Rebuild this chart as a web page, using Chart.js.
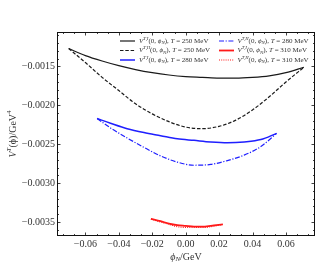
<!DOCTYPE html>
<html><head><meta charset="utf-8">
<script src="https://cdn.jsdelivr.net/npm/chart.js@4.4.1/dist/chart.umd.min.js"></script>
<style>html,body{margin:0;padding:0;background:#fff}#wrap{width:332px;height:266px}</style>
</head><body><div id="wrap"><canvas id="c" width="332" height="266"></canvas></div>
<script>
// ---- data ----
const phi250 = [-0.07,-0.06,-0.05,-0.04,-0.03,-0.02,-0.01,0.0,0.01,0.02,0.03,0.04,0.05,0.06,0.0708];
const vI250  = [-0.00127,-0.00136,-0.00143,-0.00149,-0.00154,-0.00158,-0.00161,-0.00163,-0.00164,-0.00165,-0.00165,-0.00164,-0.00162,-0.00158,-0.00151];
const vII250 = [-0.00127,-0.00145,-0.00164,-0.00181,-0.00198,-0.00211,-0.00221,-0.00228,-0.00230,-0.00227,-0.00219,-0.00206,-0.00189,-0.00170,-0.00151];
const phi280 = [-0.053,-0.045,-0.035,-0.025,-0.015,-0.005,0.005,0.015,0.025,0.035,0.045,0.0544];
const vI280  = [-0.00217,-0.00223,-0.00230,-0.00235,-0.00239,-0.00243,-0.00245,-0.00247,-0.00248,-0.00247,-0.00244,-0.00236];
const vII280 = [-0.00217,-0.00229,-0.00242,-0.00254,-0.00265,-0.00273,-0.00277,-0.00276,-0.00271,-0.00264,-0.00253,-0.00236];
const phi310 = [-0.0208,-0.015,-0.01,-0.005,0.0,0.005,0.01,0.015,0.0222];
const vI310  = [-0.00346,-0.00349,-0.00352,-0.00354,-0.00355,-0.00356,-0.00356,-0.00355,-0.00353];
const vII310 = [-0.00346,-0.00350,-0.00353,-0.00356,-0.00357,-0.00357,-0.00357,-0.00356,-0.00353];
const xTicks = [-0.06,-0.04,-0.02,0.0,0.02,0.04,0.06];
const yTicks = [-0.0035,-0.0030,-0.0025,-0.0020,-0.0015];
const legendTemps = ['250','250','280','280','310','310'];
const legendKinds = ['I','II','I','II','I','II'];

const pts = (xs, ys) => xs.map((x,i)=>({x, y: ys[i]}));
const SERIF = '"Liberation Serif","DejaVu Serif",serif';

function richWidth(ctx, parts, size){
  let w=0;
  for(const p of parts){
    const s = p[1] ? size*0.7 : size;
    ctx.font = (p[2]?'italic ':'') + s + 'px ' + SERIF;
    w += ctx.measureText(p[0]).width;
  }
  return w;
}
function drawRich(ctx, parts, x, y, size){
  let cx = x;
  for(const p of parts){
    const s = p[1] ? size*0.7 : size;
    ctx.font = (p[2]?'italic ':'') + s + 'px ' + SERIF;
    let dy = 0;
    if(p[1]==='sup') dy = -size*0.38;
    if(p[1]==='sub') dy = size*0.25;
    ctx.fillText(p[0], cx, y+dy);
    cx += ctx.measureText(p[0]).width;
  }
}

const ds = [
  {data: pts(phi250,vI250),  borderColor:'#1a1a1a', borderWidth:1.2, borderDash:[]},
  {data: pts(phi250,vII250), borderColor:'#1a1a1a', borderWidth:1.2, borderDash:[3.5,1.8]},
  {data: pts(phi280,vI280),  borderColor:'#1f1fff', borderWidth:1.5, borderDash:[]},
  {data: pts(phi280,vII280), borderColor:'#1f1fff', borderWidth:1.2, borderDash:[5,1.6,1.2,1.6]},
  {data: pts(phi310,vI310),  borderColor:'#ff1a1a', borderWidth:1.8, borderDash:[]},
  {data: pts(phi310,vII310), borderColor:'#ff1a1a', borderWidth:1.2, borderDash:[1,1.2]},
].map(d=>Object.assign(d,{pointRadius:0, fill:false, cubicInterpolationMode:'monotone'}));

const decor = {
  id:'decor',
  afterDraw(chart){
    const ctx = chart.ctx, a = chart.chartArea;
    const xs = chart.scales.x, ys = chart.scales.y;
    ctx.save();
    ctx.strokeStyle = '#111'; ctx.lineWidth = 1;
    ctx.strokeRect(a.left+0.5, a.top+0.5, a.right-a.left-1, a.bottom-a.top-1);
    ctx.lineWidth = 0.8;
    // x ticks (inward, top & bottom)
    for(let k=-24;k<=24;k++){
      const v = k*0.02/3;
      if(v < xs.min || v > xs.max) continue;
      const major = (k%3===0);
      const L = major?3.5:2;
      const px = Math.round(xs.getPixelForValue(v))+0.5;
      ctx.beginPath();
      ctx.moveTo(px,a.bottom); ctx.lineTo(px,a.bottom-L);
      ctx.moveTo(px,a.top); ctx.lineTo(px,a.top+L);
      ctx.stroke();
    }
    // y ticks
    for(let k=-40;k<=-8;k++){
      const v = k*0.0001;
      if(v < ys.min || v > ys.max) continue;
      const major = (k%5===0);
      const L = major?3.5:2;
      const py = Math.round(ys.getPixelForValue(v))+0.5;
      ctx.beginPath();
      ctx.moveTo(a.left,py); ctx.lineTo(a.left+L,py);
      ctx.moveTo(a.right,py); ctx.lineTo(a.right-L,py);
      ctx.stroke();
    }
    // axis titles
    ctx.fillStyle = '#333'; ctx.textBaseline = 'middle'; ctx.textAlign = 'left';
    const xt = [['ϕ','',true],['N','sub',true],['/GeV','',false]];
    const wx = richWidth(ctx, xt, 10);
    drawRich(ctx, xt, (a.left+a.right)/2 - wx/2, 257, 10);
    const yt = [['V','',true],['T','sup',true],['(ϕ)/GeV','',false],['4','sup',false]];
    const wy = richWidth(ctx, yt, 10);
    ctx.save();
    ctx.translate(13, (a.top+a.bottom)/2);
    ctx.rotate(-Math.PI/2);
    drawRich(ctx, yt, -wy/2, 0, 10);
    ctx.restore();
    // legend
    const rowY = [41, 50.5, 60];
    const cols = [{l0:120,l1:135,t:139},{l0:219,l1:234,t:237.5}];
    chart.data.datasets.forEach((d,i)=>{
      const col = cols[i<3?0:1];
      const y = rowY[i%3];
      ctx.strokeStyle = d.borderColor; ctx.lineWidth = d.borderWidth;
      ctx.setLineDash(d.borderDash);
      ctx.beginPath(); ctx.moveTo(col.l0,y); ctx.lineTo(col.l1,y); ctx.stroke();
      ctx.setLineDash([]);
      ctx.fillStyle = '#333';
      const parts = [['V','',true],['T,'+legendKinds[i],'sup',true],['(0, ','',false],['ϕ','',true],['N','sub',true],['), ','',false],['T','',true],[' = '+legendTemps[i]+' MeV','',false]];
      drawRich(ctx, parts, col.t, y, 7);
    });
    ctx.restore();
  }
};

new Chart(document.getElementById('c'), {
  type:'line',
  data:{datasets: ds},
  options:{
    responsive:false, animation:false, devicePixelRatio:1,
    layout:{padding:{left:0,right:17,top:32,bottom:0}},
    plugins:{legend:{display:false}, tooltip:{enabled:false}},
    scales:{
      x:{type:'linear', min:-0.077, max:0.0774,
        grid:{display:false, drawTicks:false}, border:{display:false},
        afterBuildTicks(s){ s.ticks = xTicks.map(v=>({value:v})); },
        afterFit(s){ s.height = 30; },
        ticks:{padding:2, color:'#333', font:{family:SERIF, size:10},
          callback:(v)=> (v<0?'\u2212':'') + Math.abs(v).toFixed(2)}},
      y:{type:'linear', min:-0.00368, max:-0.001057,
        grid:{display:false, drawTicks:false}, border:{display:false},
        afterBuildTicks(s){ s.ticks = yTicks.map(v=>({value:v})); },
        afterFit(s){ s.width = 57; },
        ticks:{padding:2, color:'#333', font:{family:SERIF, size:10},
          callback:(v)=> (v<0?'\u2212':'') + Math.abs(v).toFixed(4)}}
    }
  },
  plugins:[decor]
});
</script></body></html>
